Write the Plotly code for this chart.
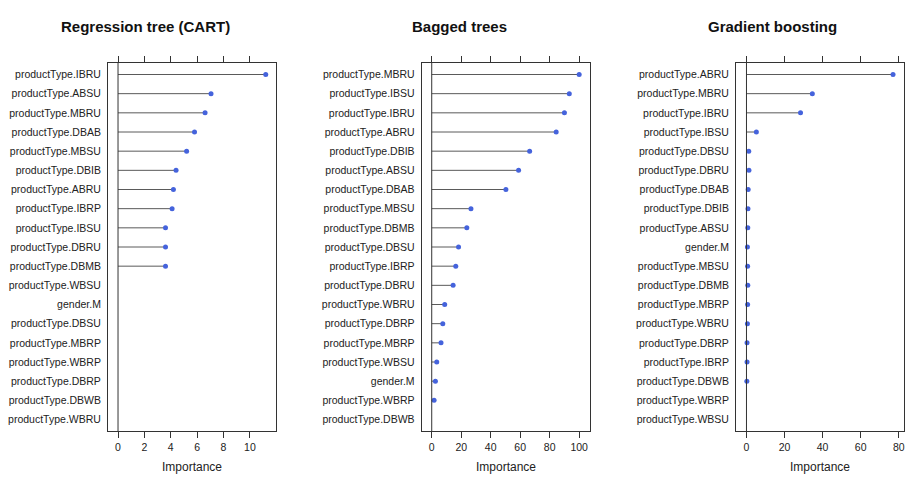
import plotly.graph_objects as go

W, H = 909, 478

# ---- data ----
cart_labels = ["productType.IBRU", "productType.ABSU", "productType.MBRU", "productType.DBAB",
               "productType.MBSU", "productType.DBIB", "productType.ABRU", "productType.IBRP",
               "productType.IBSU", "productType.DBRU", "productType.DBMB", "productType.WBSU",
               "gender.M", "productType.DBSU", "productType.MBRP", "productType.WBRP",
               "productType.DBRP", "productType.DBWB", "productType.WBRU"]
cart_values = [11.2, 7.05, 6.6, 5.8, 5.2, 4.4, 4.2, 4.1, 3.6, 3.6, 3.6, 0, 0, 0, 0, 0, 0, 0, 0]

bag_labels = ["productType.MBRU", "productType.IBSU", "productType.IBRU", "productType.ABRU",
              "productType.DBIB", "productType.ABSU", "productType.DBAB", "productType.MBSU",
              "productType.DBMB", "productType.DBSU", "productType.IBRP", "productType.DBRU",
              "productType.WBRU", "productType.DBRP", "productType.MBRP", "productType.WBSU",
              "gender.M", "productType.WBRP", "productType.DBWB"]
bag_values = [100, 93.3, 90, 84.4, 66.4, 58.9, 50.3, 26.6, 23.8, 18.2, 16.3, 14.5, 8.8, 7.5,
              6.3, 3.4, 2.5, 1.6, 0]

gbm_labels = ["productType.ABRU", "productType.MBRU", "productType.IBRU", "productType.IBSU",
              "productType.DBSU", "productType.DBRU", "productType.DBAB", "productType.DBIB",
              "productType.ABSU", "gender.M", "productType.MBSU", "productType.DBMB",
              "productType.MBRP", "productType.WBRU", "productType.DBRP", "productType.IBRP",
              "productType.DBWB", "productType.WBRP", "productType.WBSU"]
gbm_values = [77.0, 34.6, 28.4, 5.2, 1.2, 1.3, 0.9, 0.8, 0.7, 0.5, 0.6, 0.7, 0.6, 0.5, 0.3,
              0.3, 0.2, 0, 0]

titles = ["Regression tree (CART)", "Bagged trees", "Gradient boosting"]
tick_sets = [[0, 2, 4, 6, 8, 10], [0, 20, 40, 60, 80, 100], [0, 20, 40, 60, 80]]

# ---- layout geometry (pixels) ----
panels = [
    dict(labels=cart_labels, values=cart_values, box=(108, 275.5), xr=(-0.76, 11.94), title_x=145),
    dict(labels=bag_labels, values=bag_values, box=(421.7, 589.5), xr=(-6.8, 107.0), title_x=459),
    dict(labels=gbm_labels, values=gbm_values, box=(736, 903.5), xr=(-5.5, 82.5), title_x=772),
]
box_top, box_bot = 63, 431

def px(x):
    return x / W

def py(y):
    return 1 - y / H

fig = go.Figure()
FONT = "Liberation Sans, Arial, sans-serif"
DOT = "#4563dc"
SEG = "#5a5a5a"
LINE = "#333333"

for i, p in enumerate(panels):
    n = len(p["labels"])
    ax = "" if i == 0 else str(i + 1)
    xa, ya = "x" + ax, "y" + ax
    # segments
    sx, sy = [], []
    for lab, v in zip(p["labels"], p["values"]):
        if v > 0:
            sx += [0, v, None]
            sy += [lab, lab, None]
    fig.add_trace(go.Scatter(x=sx, y=sy, mode="lines", line=dict(color=SEG, width=1),
                             xaxis=xa, yaxis=ya, hoverinfo="skip", showlegend=False))
    # dots
    dx = [v for v in p["values"] if v > 0]
    dy = [lab for lab, v in zip(p["labels"], p["values"]) if v > 0]
    fig.add_trace(go.Scatter(x=dx, y=dy, mode="markers",
                             marker=dict(color=DOT, size=5, line=dict(width=0)),
                             xaxis=xa, yaxis=ya, showlegend=False))
    # zero reference line
    fig.add_shape(type="line", x0=0, x1=0, y0=0, y1=1, xref=xa, yref=ya + " domain",
                  line=dict(color=LINE, width=1), layer="above")
    key = "xaxis" + ax
    ykey = "yaxis" + ax
    fig.layout[key] = dict(domain=[px(p["box"][0]), px(p["box"][1])], range=list(p["xr"]),
                           anchor=ya, tickvals=tick_sets[i], ticks="outside", ticklen=6,
                           tickcolor=LINE, showline=True, linecolor=LINE, linewidth=1,
                           mirror="allticks", showgrid=False, zeroline=False,
                           tickfont=dict(size=10.5, color="#222222", family=FONT))
    fig.layout[ykey] = dict(domain=[py(box_bot), py(box_top)], anchor=xa, type="category",
                            categoryorder="array", categoryarray=p["labels"],
                            range=[n - 1 + 0.6, -0.6], showline=True, linecolor=LINE,
                            linewidth=1, mirror=True, ticks="", showgrid=False,
                            zeroline=False, ticklabelstandoff=4,
                            tickfont=dict(size=10.5, color="#222222", family=FONT))
    fig.add_annotation(text="<b>" + titles[i] + "</b>", x=px(p["title_x"]), y=py(27),
                       xref="paper", yref="paper", showarrow=False,
                       font=dict(size=15, color="#111111", family=FONT),
                       xanchor="center", yanchor="middle")
    fig.add_annotation(text="Importance", x=px((p["box"][0] + p["box"][1]) / 2), y=py(467),
                       xref="paper", yref="paper", showarrow=False,
                       font=dict(size=12, color="#222222", family=FONT),
                       xanchor="center", yanchor="middle")

fig.update_layout(width=W, height=H, margin=dict(l=0, r=0, t=0, b=0),
                  paper_bgcolor="white", plot_bgcolor="white",
                  font=dict(family=FONT, color="#222222"))

fig.write_html("out.html", config={"displayModeBar": False},
               post_script="document.body.style.margin='0';document.body.style.overflow='hidden';")
